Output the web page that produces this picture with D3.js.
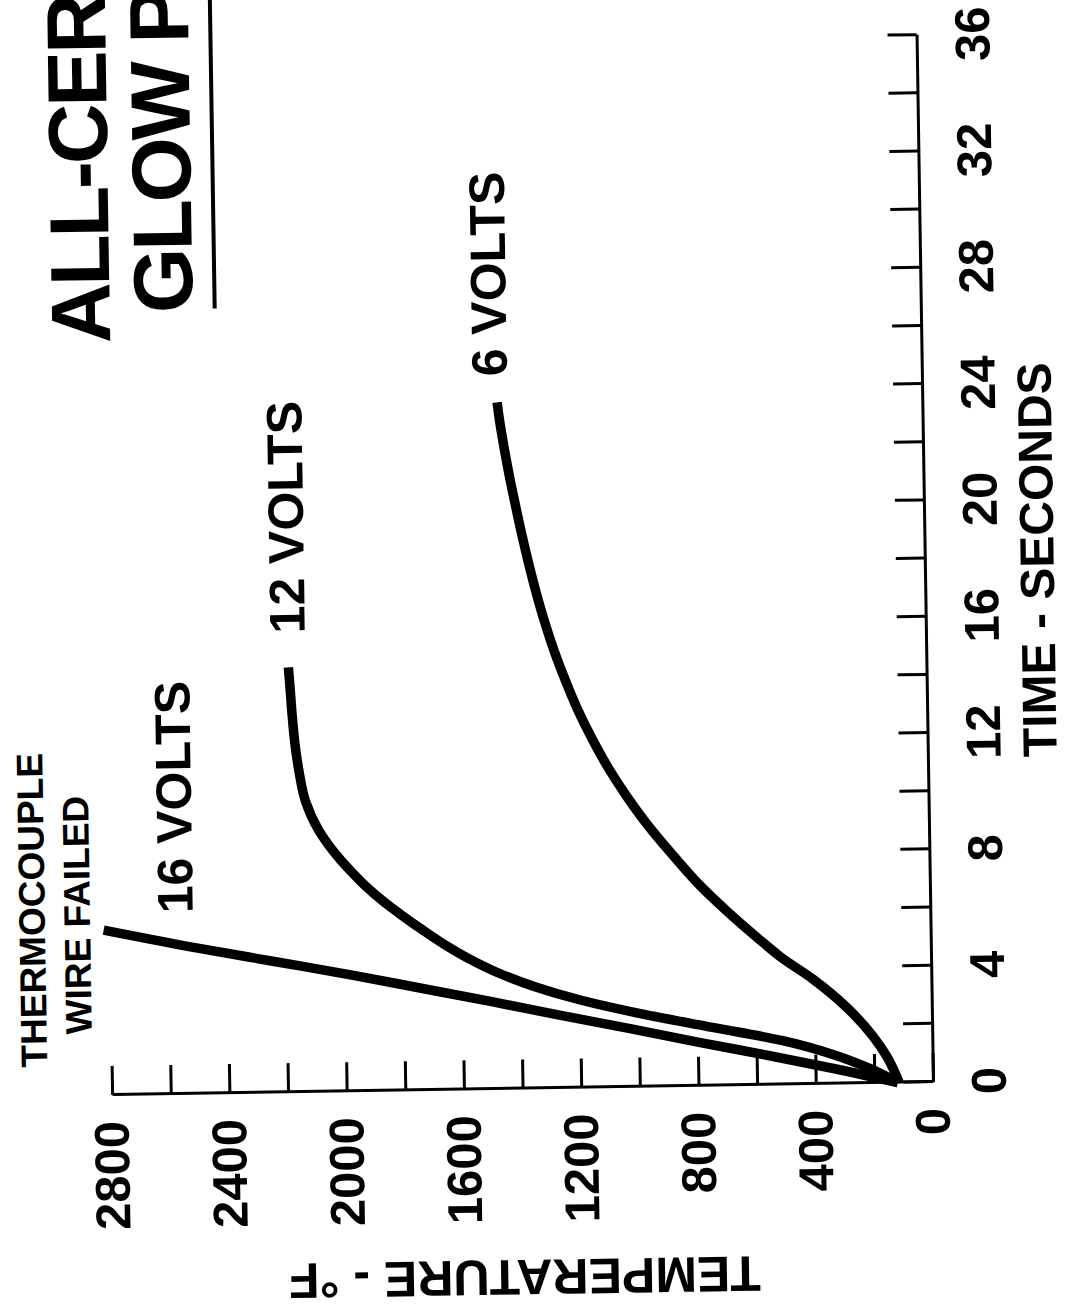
<!DOCTYPE html>
<html>
<head>
<meta charset="utf-8">
<script src="https://cdn.jsdelivr.net/npm/d3@7"></script>
<style>
html,body{margin:0;padding:0;background:#fff}
svg{display:block;background:#fff}
text{font-family:"Liberation Sans",Arial,Helvetica,sans-serif;font-weight:bold;fill:#000}
</style>
</head>
<body>
<svg id="chart" width="1073" height="1314"></svg>
<script>
// ---- data ----
const timeTickValues = [0,2,4,6,8,10,12,14,16,18,20,22,24,26,28,30,32,34,36];
const timeLabelValues = [0,4,8,12,16,20,24,28,32,36];
const tempTickValues = [0,200,400,600,800,1000,1200,1400,1600,1800,2000,2200,2400,2600,2800];
const tempLabelValues = [0,400,800,1200,1600,2000,2400,2800];

const seriesNames = ["16 VOLTS","12 VOLTS","6 VOLTS"];
const time16 = [0,0.5,1.0,1.5,2.0,2.5,3.0,3.5,4.0,4.5,5.0,5.67];
const temp16 = [120,330,560,800,1030,1270,1500,1740,1980,2240,2500,2820];
const time12 = [0,0.5,1.0,1.5,2.0,2.5,3.0,3.5,4.0,4.5,5.0,5.5,6.0,6.5,7.0,7.5,8.0,9.0,10.0,11.0,12.0,13.0,14.0,14.6];
const temp12 = [120,215,340,510,750,990,1195,1355,1480,1578,1660,1732,1800,1864,1920,1968,2012,2082,2125,2145,2158,2166,2172,2176];
const time6 = [0,0.9,1.6,2.6,3.6,4.4,5,6,7,8,9,10,11,12,13,14,15,16,17,18,19,20,21,22,23,23.6];
const temp6 = [115,156,202,289,404,515,585,695,795,880,960,1030,1092,1145,1192,1232,1268,1299,1326,1350,1372,1392,1411,1428,1443,1450];

const titleLines = ["ALL-CERAMIC","GLOW PLUG"];
const xTitle = "TIME - SECONDS";
const yTitle = "TEMPERATURE - °F";
const noteLines = ["THERMOCOUPLE","WIRE FAILED"];

// ---- layout (the scanned page is turned a quarter turn) ----
const svg = d3.select("#chart");
const g = svg.append("g").attr("transform","translate(933,1082) rotate(-90.9)");

const x = d3.scaleLinear().domain([0,36]).range([0,1047]);
const y = d3.scaleLinear().domain([0,2800]).range([0,-821]);

// axes
const xAxis = d3.axisBottom(x).tickValues(timeTickValues)
  .tickSizeInner(-29).tickSizeOuter(0).tickPadding(38)
  .tickFormat(d => timeLabelValues.includes(d) ? d : "");
const yAxis = d3.axisLeft(y).tickValues(tempTickValues)
  .tickSizeInner(-29).tickSizeOuter(0).tickPadding(26)
  .tickFormat(d => tempLabelValues.includes(d) ? d : "");

const gx = g.append("g").call(xAxis);
const gy = g.append("g").call(yAxis);
[gx, gy].forEach(a => {
  a.attr("font-family", null).attr("font-size", null);
  a.selectAll("path.domain").attr("stroke","#000").attr("stroke-width",3);
  a.selectAll(".tick line").attr("stroke","#000").attr("stroke-width",3);
  a.selectAll(".tick text").style("font-size","49px").style("font-weight","bold").attr("fill","#000");
});

// series
const series = [
  {name: seriesNames[0], t: time16, T: temp16},
  {name: seriesNames[1], t: time12, T: temp12},
  {name: seriesNames[2], t: time6, T: temp6}
];
const line = d3.line().x(d => x(d[0])).y(d => y(d[1])).curve(d3.curveMonotoneX);
g.selectAll("path.series").data(series).enter().append("path")
  .attr("class","series")
  .attr("d", s => line(s.t.map((tt,i) => [tt, s.T[i]])))
  .attr("fill","none").attr("stroke","#000").attr("stroke-width",9.5)
  .attr("stroke-linejoin","round").attr("stroke-linecap","butt");

// curve labels (anchored in data units)
const curveLabels = [
  {text: seriesNames[0], t: 6.21, T: 2515},
  {text: seriesNames[1], t: 15.77, T: 2118},
  {text: seriesNames[2], t: 24.5, T: 1415}
];
g.selectAll("text.clabel").data(curveLabels).enter().append("text")
  .attr("class","clabel")
  .attr("x", d => x(d.t)).attr("y", d => y(d.T))
  .style("font-size","50px")
  .text(d => d.text);

// thermocouple note
const noteAnchors = [{t: 6.39, T: 3020},{t: 6.2, T: 2866}];
g.selectAll("text.note").data(noteLines).enter().append("text")
  .attr("class","note")
  .attr("x", (d,i) => x(noteAnchors[i].t)).attr("y", (d,i) => y(noteAnchors[i].T))
  .attr("text-anchor","middle")
  .style("font-size","37px")
  .text(d => d);

// title (cut by the page edge, as in the scan)
const titleAnchors = [{t: 25.85, T: 2766},{t: 26.85, T: 2483}];
g.selectAll("text.title").data(titleLines).enter().append("text")
  .attr("class","title")
  .attr("x", (d,i) => x(titleAnchors[i].t)).attr("y", (d,i) => y(titleAnchors[i].T))
  .style("font-size","84px").style("letter-spacing","-3px")
  .text(d => d);
g.append("line")
  .attr("x1", x(26.98)).attr("x2", x(48))
  .attr("y1", y(2408)).attr("y2", y(2408))
  .attr("stroke","#000").attr("stroke-width",4);

// axis titles
g.append("text")
  .attr("x", x(17.9)).attr("y", 112).attr("dy","0.35em")
  .attr("text-anchor","middle").style("font-size","48px")
  .text(xTitle);
g.append("text")
  .attr("transform", `translate(-189,${y(1402)}) rotate(-90)`)
  .attr("dy","0.35em")
  .attr("text-anchor","middle").style("font-size","50px")
  .text(yTitle);
</script>
</body>
</html>
